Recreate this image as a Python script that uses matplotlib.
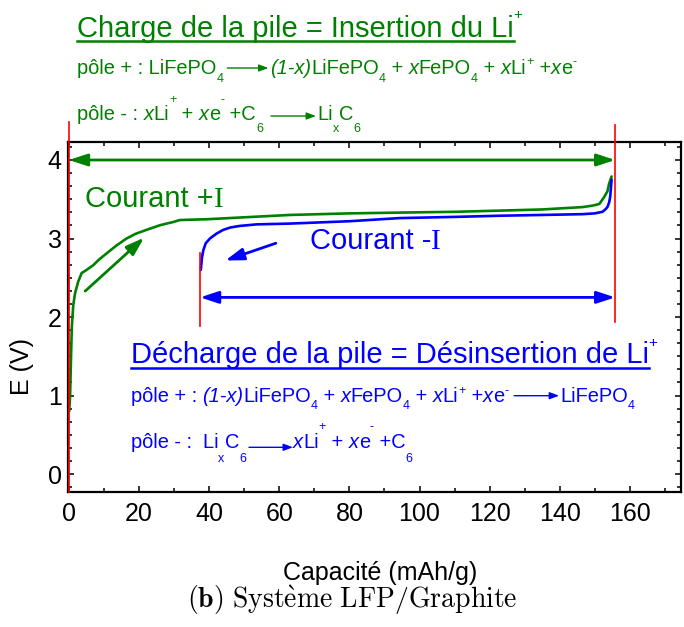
import matplotlib
matplotlib.use('Agg')
import matplotlib.pyplot as plt
import numpy as np
from matplotlib.patches import FancyArrowPatch
from matplotlib.lines import Line2D
from matplotlib.ticker import MultipleLocator, AutoMinorLocator

W, H = 684, 627
FONT = 'Liberation Sans'
GREEN = '#008000'
BLUE = '#0000ff'
RED = '#ff0000'

# charge curve (Courant +I)
charge_x = [0.05, 0.3, 0.6, 0.8, 1.2, 1.7, 2.6, 3.6, 5.0, 6.9, 8.5, 10.7, 13.5, 16.4, 19.0,
            22.1, 26.0, 29.7, 31.6, 35.0, 39.2, 50.0, 63.0, 80.0, 94.3, 110.0, 122.8, 135.0,
            146.5, 149.5, 151.3, 152.7, 153.6, 154.1, 154.8]
charge_y = [0.8, 1.0, 1.55, 1.88, 2.15, 2.3, 2.45, 2.56, 2.6, 2.66, 2.73, 2.81, 2.91, 3.0, 3.06,
            3.11, 3.17, 3.21, 3.235, 3.24, 3.245, 3.27, 3.30, 3.32, 3.33, 3.34, 3.355, 3.37,
            3.40, 3.42, 3.44, 3.53, 3.6, 3.70, 3.79]

# discharge curve (Courant -I)
disch_x = [37.6, 37.9, 38.3, 39.0, 40.2, 42.0, 44.0, 46.0, 48.7, 53.5, 63.0, 80.0, 94.3, 110.0,
           122.8, 135.0, 146.5, 150.0, 152.2, 153.0, 153.6, 154.1, 154.4, 154.8]
disch_y = [2.60, 2.75, 2.85, 2.94, 3.0, 3.06, 3.11, 3.14, 3.16, 3.18, 3.19, 3.22, 3.26, 3.275,
           3.29, 3.30, 3.31, 3.32, 3.34, 3.37, 3.40, 3.46, 3.53, 3.75]

# red vertical markers
red_x = [0.0, 37.4, 155.8]
red_lo = [-0.225, 1.88, 1.94]
red_hi = [4.49, 2.81, 4.45]

# capacity span arrows
span_charge = (0.0, 155.8, 4.0)
span_disch = (37.4, 155.8, 2.25)
# direction arrows (start -> end)
dir_charge = ((4.6, 2.33), (21.4, 3.01))
dir_disch = ((59.0, 2.94), (44.6, 2.72))

fig = plt.figure(figsize=(W / 100, H / 100), dpi=100)
ax = fig.add_axes([68 / W, 1 - 491.7 / H, 613 / W, 350 / H])
ax.set_xlim(-0.3, 174.6)
ax.set_ylim(-0.225, 4.233)

ax.plot(charge_x, charge_y, color=GREEN, lw=1.9, solid_capstyle='round')
ax.plot(disch_x, disch_y, color=BLUE, lw=1.9, solid_capstyle='round')

for xs, lo, hi in zip(red_x, red_lo, red_hi):
    ax.plot([xs, xs], [lo, hi], color=RED, lw=1.2, clip_on=False, zorder=5)

def arrow(p0, p1, color, style):
    a = FancyArrowPatch(p0, p1, arrowstyle=style, mutation_scale=11, color=color,
                        lw=2.0, shrinkA=0, shrinkB=0, clip_on=False, zorder=4)
    ax.add_patch(a)

hs = '<|-|>,head_length=1.0,head_width=0.33'
arrow((span_charge[0], span_charge[2]), (span_charge[1], span_charge[2]), GREEN, hs)
arrow((span_disch[0], span_disch[2]), (span_disch[1], span_disch[2]), BLUE, hs)
ss = '-|>,head_length=1.0,head_width=0.33'
arrow(dir_charge[0], dir_charge[1], GREEN, ss)
arrow(dir_disch[0], dir_disch[1], BLUE, ss)

# axes style
for s in ax.spines.values():
    s.set_linewidth(1.6)
ax.xaxis.set_major_locator(MultipleLocator(20))
ax.xaxis.set_minor_locator(MultipleLocator(10))
ax.yaxis.set_major_locator(MultipleLocator(1))
ax.yaxis.set_minor_locator(AutoMinorLocator(6))
ax.tick_params(which='both', direction='in', top=True, right=True, width=1.1)
ax.tick_params(which='major', length=4.5)
ax.tick_params(which='minor', length=2.8)
ax.tick_params(axis='x', pad=7.5)
ax.tick_params(axis='y', pad=4.5)
for lab in ax.get_xticklabels() + ax.get_yticklabels():
    lab.set_fontfamily(FONT)
    lab.set_fontsize(18)

def fx(x):
    return x / W

def fy(y):
    return 1 - y / H

fig.text(fx(380), fy(573), 'Capacité (mAh/g)', family=FONT, fontsize=18, ha='center', va='center')
fig.text(fx(22), fy(366), 'E (V)', family=FONT, fontsize=18, ha='center', va='center', rotation=90)
fig.text(fx(352), fy(600), r'$\mathbf{(b)}\ \mathrm{Syst\`{e}me\ LFP/Graphite}$',
         math_fontfamily='cm', fontsize=20, ha='center', va='center')

r = fig.canvas.get_renderer()

def width(s, fs, style, fam=FONT):
    t1 = fig.text(0, 0, '|' + s + '|', family=fam, fontsize=fs, fontstyle=style)
    t2 = fig.text(0, 0, '||', family=fam, fontsize=fs, fontstyle=style)
    w = t1.get_window_extent(r).width - t2.get_window_extent(r).width
    t1.remove()
    t2.remove()
    return w

def rich(x0, y0, parts, color, fs, small, sub_dy, sup_dy, arr_dy=6):
    x = x0
    for kind, s in parts:
        if kind == 'a':
            gap0, ln, gap1 = s
            x += gap0
            a = FancyArrowPatch((fx(x), fy(y0 - arr_dy)), (fx(x + ln), fy(y0 - arr_dy)),
                                transform=fig.transFigure, arrowstyle='-|>,head_length=0.8,head_width=0.3',
                                mutation_scale=7, color=color, lw=1.0, shrinkA=0, shrinkB=0)
            fig.add_artist(a)
            x += ln + gap1
            continue
        size, dy, style, fam = fs, 0, 'normal', FONT
        if kind == 'i':
            style = 'italic'
        elif kind == 'b':
            size, dy = small, sub_dy
        elif kind == 'p':
            size, dy = small, sup_dy
        elif kind == 'r':
            fam = 'Liberation Serif'
        fig.text(fx(x), fy(y0 + dy), s, family=fam, fontsize=size, fontstyle=style,
                 color=color, ha='left', va='baseline')
        x += width(s, size, style, fam)
    return x

def underline(x0, x1, y, color):
    fig.add_artist(Line2D([fx(x0), fx(x1)], [fy(y), fy(y)], transform=fig.transFigure,
                          color=color, lw=1.8))

EQ, SM = 14.4, 9

# charge texts
x_end = rich(77, 36.7, [('n', 'Charge de la pile = Insertion du Li')], GREEN, 21, 11, 0, -18)
underline(77, x_end, 40.5, GREEN)
rich(x_end, 36.7, [('p', '+')], GREEN, 21, 11, 0, -18)
rich(77, 74, [('n', 'pôle + : LiFePO'), ('b', '4'), ('a', (4, 41, 2)), ('i', '(1-x)'),
              ('n', 'LiFePO'), ('b', '4'), ('n', ' + '), ('i', 'x'), ('n', 'FePO'), ('b', '4'),
              ('n', ' + '), ('i', 'x'), ('n', 'Li'), ('p', '+'), ('n', ' +'), ('i', 'x'),
              ('n', 'e'), ('p', '-')], GREEN, EQ, SM, 8, -9)
rich(77, 120, [('n', 'pôle - : '), ('i', 'x'), ('n', 'Li'), ('p', '+'), ('n', ' + '), ('i', 'x'),
               ('n', 'e'), ('p', '-'), ('n', ' +C'), ('b', '6'), ('a', (8, 45, 1)), ('n', 'Li'),
               ('b', 'x'), ('n', 'C'), ('b', '6')], GREEN, EQ, SM, 12, -17, arr_dy=4)
rich(85, 206.7, [('n', 'Courant +'), ('r', 'I')], GREEN, 21, 11, 0, 0)

# discharge texts
x_end = rich(130.7, 363.3, [('n', 'Décharge de la pile = Désinsertion de Li')], BLUE, 21, 11, 0, -16)
underline(130.7, x_end, 368, BLUE)
rich(x_end, 363.3, [('p', '+')], BLUE, 21, 11, 0, -16)
rich(130.7, 401.7, [('n', 'pôle + : '), ('i', '(1-x)'), ('n', 'LiFePO'), ('b', '4'), ('n', ' + '),
                    ('i', 'x'), ('n', 'FePO'), ('b', '4'), ('n', ' + '), ('i', 'x'), ('n', 'Li'),
                    ('p', '+'), ('n', ' +'), ('i', 'x'), ('n', 'e'), ('p', '-'), ('a', (6, 45, 1)),
                    ('n', 'LiFePO'), ('b', '4')], BLUE, EQ, SM, 7, -8)
rich(130.7, 448.3, [('n', 'pôle - :  Li'), ('b', 'x'), ('n', 'C'), ('b', '6'), ('a', (3, 44, 0)),
                    ('i', 'x'), ('n', 'Li'), ('p', '+'), ('n', ' + '), ('i', 'x'), ('n', 'e'),
                    ('p', '-'), ('n', ' +C'), ('b', '6')], BLUE, EQ, SM, 14, -18, arr_dy=1)
rich(310, 249.3, [('n', 'Courant -'), ('r', 'I')], BLUE, 21, 11, 0, 0)

fig.savefig('out.png', dpi=100)
